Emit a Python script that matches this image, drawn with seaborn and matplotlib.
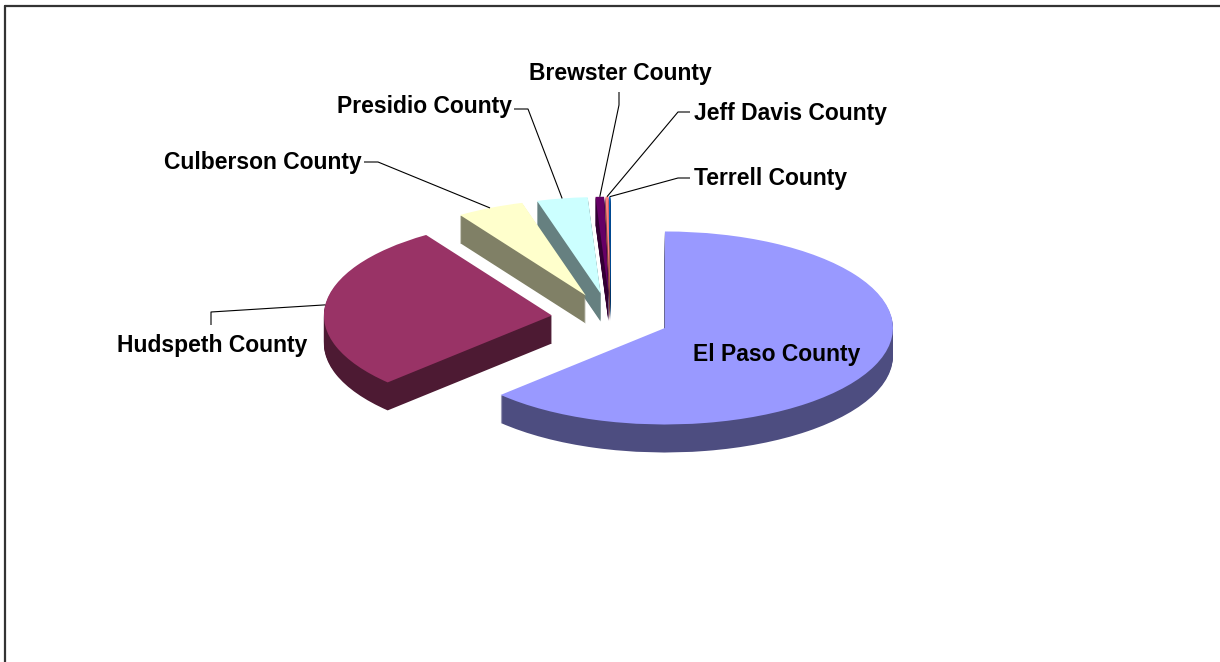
import matplotlib
matplotlib.use("Agg")
import matplotlib.pyplot as plt
import matplotlib.colors as mcolors
from matplotlib.lines import Line2D
import numpy as np
import seaborn as sns

# Shares of the regional total by county (percent)
counties = ["El Paso County", "Hudspeth County", "Culberson County",
            "Presidio County", "Brewster County", "Jeff Davis County",
            "Terrell County"]
shares = [62.8, 27.9, 4.8, 3.6, 0.6, 0.2, 0.1]
top_colors = ["#9999FF", "#993366", "#FFFFCC", "#CCFFFF",
              "#660066", "#FF8080", "#0066CC"]

sns.set_theme(style="white")
plt.rcParams["font.family"] = ["Liberation Sans", "DejaVu Sans"]

W, H = 1220, 662
fig = plt.figure(figsize=(W / 100, H / 100), dpi=100)
ax = fig.add_axes([0, 0, 1, 1])

# Tilted-disc geometry (pixels): centre, semi-axes, rim depth
cx, cy = 610.6, 318.2
rx, ry = 228.0, 96.5
depth = 28
explode = [0.259] * len(shares)


def to_data(px, py):
    return (px - cx) / rx, (cy - py) / ry


wall_colors = [tuple(0.5 * c for c in mcolors.to_rgb(col)) for col in top_colors]
pie_kw = dict(explode=explode, startangle=90, counterclock=False,
              radius=1.0, frame=False, wedgeprops=dict(linewidth=0))

# Side walls: stacked copies of the pie shifted down one pixel at a time
wall_layers = []
for k in range(depth, 0, -1):
    wedges, _ = ax.pie(shares, colors=wall_colors, center=(0, -k / ry), **pie_kw)
    wall_layers.append(wedges)

# Top faces
tops, _ = ax.pie(shares, colors=top_colors, center=(0, 0), **pie_kw)

# Paint back slices first so nearer slices cover them
mids = [np.deg2rad((w.theta1 + w.theta2) / 2) for w in tops]
order = np.argsort([-np.sin(m) for m in mids])
for rank, i in enumerate(order):
    for layer in wall_layers:
        layer[i].set_zorder(2 + 2 * rank)
    tops[i].set_zorder(3 + 2 * rank)

ax.set_aspect("auto")
ax.set_xlim(to_data(0, 0)[0], to_data(W, 0)[0])
ax.set_ylim(to_data(0, H)[1], to_data(0, 0)[1])
ax.axis("off")

# Leader lines from the middle of each slice's rim to its label
label_layout = {
    "Hudspeth County": dict(path=[(211, 312), (211, 325)], text=(212, 352), ha="center"),
    "Culberson County": dict(path=[(378, 162), (364, 162)], text=(362, 169), ha="right"),
    "Presidio County": dict(path=[(528, 109), (514, 109)], text=(512, 113), ha="right"),
    "Brewster County": dict(path=[(619, 105), (619, 92)], text=(620, 80), ha="center"),
    "Jeff Davis County": dict(path=[(678, 112), (690, 112)], text=(694, 120), ha="left"),
    "Terrell County": dict(path=[(678, 178), (690, 178)], text=(694, 185), ha="left"),
}
label_font = dict(fontsize=16.5, fontweight="bold", color="black", va="baseline",
                  zorder=60)

for i, name in enumerate(counties):
    w = tops[i]
    if name in label_layout:
        spec = label_layout[name]
        ax_pt = (w.center[0] + w.r * np.cos(mids[i]),
                 w.center[1] + w.r * np.sin(mids[i]))
        pts = [ax_pt] + [to_data(*p) for p in spec["path"]]
        xs, ys = zip(*pts)
        ax.plot(xs, ys, color="black", lw=0.8, zorder=50, solid_capstyle="butt")
        tx, ty = to_data(*spec["text"])
        ax.text(tx, ty, name, ha=spec["ha"], **label_font)
    else:
        tx, ty = to_data(777, 361)
        ax.text(tx, ty, name, ha="center", **label_font)

# Chart-area border (top and left edges visible)
frame_kw = dict(transform=fig.transFigure, color="#333333", lw=1.6)
fig.add_artist(Line2D([5.3 / W, 1.0], [1 - 5.6 / H, 1 - 5.6 / H], **frame_kw))
fig.add_artist(Line2D([5.3 / W, 5.3 / W], [0.0, 1 - 5.6 / H], **frame_kw))

fig.savefig("out.png", dpi=100, facecolor="white")
